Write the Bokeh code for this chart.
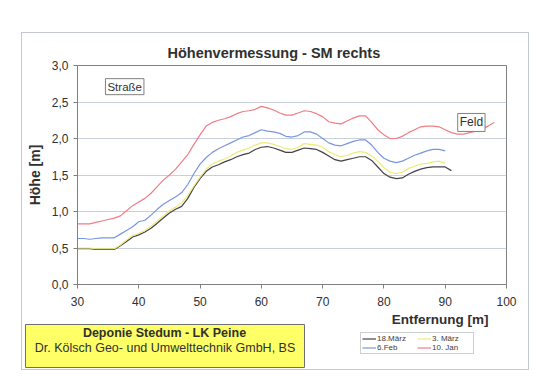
from bokeh.plotting import figure
from bokeh.layouts import column, row
from bokeh.models import Range1d, Label, Legend, LegendItem, FixedTicker
from bokeh.core.properties import value
from bokeh.embed import file_html
from bokeh.resources import INLINE

# ---- data ----
x_red = list(range(30, 99))
y_red = [0.83, 0.83, 0.83, 0.85, 0.87, 0.89, 0.91, 0.94, 1.01, 1.08,
         1.13, 1.18, 1.25, 1.34, 1.43, 1.50, 1.58, 1.68, 1.78, 1.92,
         2.05, 2.17, 2.22, 2.25, 2.27, 2.30, 2.34, 2.37, 2.38, 2.40,
         2.44, 2.42, 2.39, 2.35, 2.32, 2.32, 2.35, 2.38, 2.37, 2.34,
         2.30, 2.23, 2.21, 2.20, 2.24, 2.28, 2.31, 2.31, 2.22, 2.12,
         2.05, 2.00, 2.00, 2.03, 2.08, 2.12, 2.16, 2.17, 2.17, 2.16,
         2.12, 2.08, 2.06, 2.06, 2.08, 2.10, 2.13, 2.17, 2.22]

x_blue = list(range(30, 91))
y_blue = [0.63, 0.63, 0.62, 0.63, 0.64, 0.64, 0.64, 0.69, 0.74, 0.79,
          0.86, 0.88, 0.95, 1.03, 1.10, 1.15, 1.20, 1.26, 1.37, 1.52,
          1.65, 1.74, 1.81, 1.86, 1.90, 1.94, 1.98, 2.02, 2.04, 2.08,
          2.12, 2.10, 2.09, 2.07, 2.03, 2.02, 2.04, 2.09, 2.09, 2.06,
          2.00, 1.94, 1.91, 1.90, 1.93, 1.96, 1.98, 1.98, 1.91, 1.81,
          1.73, 1.69, 1.67, 1.69, 1.73, 1.77, 1.80, 1.83, 1.85, 1.85,
          1.83]

x_yellow = list(range(30, 91))
y_yellow = [0.50, 0.50, 0.50, 0.49, 0.49, 0.49, 0.49, 0.54, 0.61, 0.67,
            0.70, 0.74, 0.80, 0.87, 0.94, 1.01, 1.06, 1.12, 1.22, 1.35,
            1.47, 1.58, 1.65, 1.69, 1.72, 1.76, 1.81, 1.84, 1.87, 1.91,
            1.94, 1.94, 1.92, 1.89, 1.86, 1.85, 1.88, 1.93, 1.92, 1.91,
            1.88, 1.82, 1.78, 1.75, 1.77, 1.80, 1.82, 1.81, 1.76, 1.69,
            1.60, 1.54, 1.52, 1.54, 1.59, 1.62, 1.65, 1.66, 1.68, 1.69,
            1.66]

x_black = list(range(30, 92))
y_black = [0.49, 0.49, 0.49, 0.48, 0.48, 0.48, 0.48, 0.53, 0.59, 0.65,
           0.68, 0.72, 0.77, 0.84, 0.91, 0.98, 1.03, 1.07, 1.18, 1.33,
           1.45, 1.55, 1.61, 1.64, 1.68, 1.71, 1.75, 1.78, 1.80, 1.85,
           1.88, 1.89, 1.87, 1.84, 1.81, 1.81, 1.84, 1.87, 1.86, 1.85,
           1.81, 1.76, 1.71, 1.69, 1.71, 1.73, 1.75, 1.75, 1.70, 1.61,
           1.52, 1.47, 1.45, 1.46, 1.51, 1.55, 1.58, 1.60, 1.61, 1.61,
           1.61, 1.56]

series_names = ["18.März", "3. März", "6.Feb", "10. Jan"]
series_colors = ["#45424a", "#eeea7a", "#7896e0", "#f07c86"]
legend_order = ["18.März", "6.Feb", "3. März", "10. Jan"]   # column-major -> 2 rows
y_ticks = [0.0, 0.5, 1.0, 1.5, 2.0, 2.5, 3.0]
y_tick_labels = ["0,0", "0,5", "1,0", "1,5", "2,0", "2,5", "3,0"]
x_ticks = [30, 40, 50, 60, 70, 80, 90, 100]

FONT = "Liberation Sans"
TXT = "#303030"

series_x = [x_black, x_yellow, x_blue, x_red]
series_y = [y_black, y_yellow, y_blue, y_red]

# ---------------- main chart ----------------
p = figure(width=506, height=277, output_backend="svg", toolbar_location=None,
           x_range=Range1d(30, 100), y_range=Range1d(0, 3),
           min_border_left=55, min_border_right=22, min_border_top=32, min_border_bottom=26,
           background_fill_color="white", border_fill_color="white")
p.outline_line_color = "#808080"
p.outline_line_width = 1

p.title.text = "Höhenvermessung - SM rechts"
p.title.align = "left"
p.title.offset = 90
p.title.standoff = 10
p.title.text_font = FONT
p.title.text_font_size = "14.5px"
p.title.text_font_style = "bold"
p.title.text_color = TXT

p.xgrid.visible = False
p.ygrid.grid_line_color = "#c8d0dc"
p.ygrid.ticker = FixedTicker(ticks=y_ticks)

p.xaxis.ticker = FixedTicker(ticks=x_ticks)
p.yaxis.ticker = FixedTicker(ticks=y_ticks)
p.yaxis.major_label_overrides = {t: l for t, l in zip(y_ticks, y_tick_labels)}
for ax in (p.xaxis, p.yaxis):
    ax.axis_line_color = "#808080"
    ax.major_tick_line_color = "#808080"
    ax.major_tick_out = 4
    ax.major_tick_in = 0
    ax.minor_tick_line_color = None
    ax.major_label_text_font = FONT
    ax.major_label_text_font_size = "12px"
    ax.major_label_text_color = TXT
p.xaxis.major_label_standoff = 8
p.yaxis.major_label_standoff = 5
p.yaxis.axis_label = "Höhe [m]"
p.yaxis.axis_label_text_font = FONT
p.yaxis.axis_label_text_font_size = "14px"
p.yaxis.axis_label_text_font_style = "bold"
p.yaxis.axis_label_text_color = TXT
p.yaxis.axis_label_standoff = 6

for xs, ys, col in zip(series_x, series_y, series_colors):
    p.line(xs, ys, line_color=col, line_width=1.2)

p.add_layout(Label(x=37.7, y=2.71, text="Straße", text_align="center", text_baseline="middle",
                   text_font=FONT, text_font_size="11.5px", text_color=TXT,
                   background_fill_color="white", border_line_color="#808080", padding=2))
p.add_layout(Label(x=94.27, y=2.22, text="Feld", text_align="center", text_baseline="middle",
                   text_font=FONT, text_font_size="12px", text_color=TXT,
                   background_fill_color="white", border_line_color="#808080", padding=2))

# ---------------- bottom strip (axis title, info box, legend) ----------------
q = figure(width=506, height=59, output_backend="svg", toolbar_location=None,
           x_range=Range1d(22, 528), y_range=Range1d(369, 310),
           x_axis_location=None, y_axis_location=None,
           min_border_left=0, min_border_right=0, min_border_top=0, min_border_bottom=0,
           background_fill_color="white", border_fill_color="white")
q.grid.visible = False
q.outline_line_color = None

q.text(x=[488], y=[318.5], text=["Entfernung [m]"], text_align="right", text_baseline="middle",
       text_font=value(FONT), text_font_size="13.5px", text_font_style="bold", text_color=TXT)
q.quad(left=[25], right=[304], top=[324], bottom=[367], fill_color="#ffff66",
       line_color="#707070", line_width=1)
q.text(x=[164], y=[332], text=["Deponie Stedum - LK Peine"], text_align="center",
       text_baseline="middle", text_font=value(FONT), text_font_size="12.5px",
       text_font_style="bold", text_color=TXT)
q.text(x=[164.5], y=[347.5], text=["Dr. Kölsch Geo- und Umwelttechnik GmbH, BS"],
       text_align="center", text_baseline="middle", text_font=value(FONT),
       text_font_size="12.5px", text_color=TXT)

# legend renderers: the same series, which fall outside this strip's range (not drawn)
leg_items = []
for name in legend_order:
    i = series_names.index(name)
    r = q.line(series_x[i], series_y[i], line_color=series_colors[i], line_width=1.2)
    leg_items.append(LegendItem(label=name, renderers=[r]))
legend = Legend(items=leg_items, location=(338, 15), ncols=2)
legend.label_text_font = FONT
legend.label_text_font_size = "8px"
legend.label_text_color = "#404040"
legend.label_height = 9
legend.label_width = 40
legend.glyph_height = 9
legend.glyph_width = 14
legend.label_standoff = 1
legend.padding = 1
legend.spacing = 0
legend.margin = 0
legend.border_line_color = "#a0a0a0"
legend.background_fill_alpha = 1
q.add_layout(legend, "center")

try:
    q.frame_align = False
    bottom = q
except Exception:
    bottom = row(q, spacing=0)

layout = column(p, bottom, spacing=0, margin=(33, 0, 0, 22),
                styles={"outline": "1px solid #c4c8d0"})

open("out.html", "w").write(file_html(layout, INLINE))
